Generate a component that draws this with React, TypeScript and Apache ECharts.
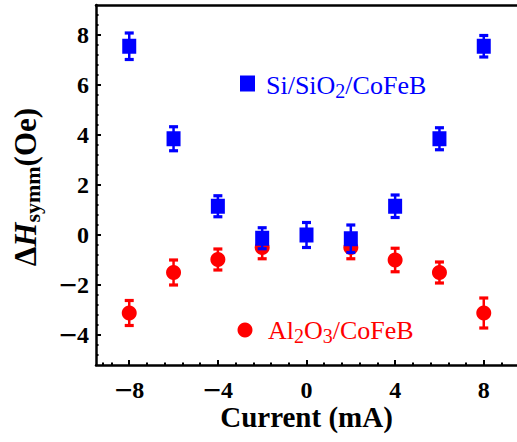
import React, { useEffect, useRef } from "react";
import * as echarts from "echarts";

// ---- data ----
const siCurrents = [-8, -6, -4, -2, 0, 2, 4, 6, 8];
const siValues = [7.55, 3.85, 1.15, -0.13, 0.0, -0.15, 1.15, 3.85, 7.55];
const siErrors = [0.53, 0.48, 0.42, 0.42, 0.5, 0.55, 0.45, 0.44, 0.43];

const alCurrents = [-8, -6, -4, -2, 2, 4, 6, 8];
const alValues = [-3.12, -1.5, -0.98, -0.5, -0.5, -1.0, -1.5, -3.12];
const alErrors = [0.5, 0.5, 0.42, 0.45, 0.45, 0.47, 0.42, 0.6];

const xMajorTicks = [-8, -4, 0, 4, 8];
const xMinorTicks = [
  -9.2, -8.8, -7.2, -6.4, -5.6, -4.8, -3.2, -2.4, -1.6, -0.8, 0.8, 1.6, 2.4, 3.2, 4.8, 5.6, 6.4, 7.2, 8.8,
];
const yMajorTicks = [-4, -2, 0, 2, 4, 6, 8];
const yMinorTicks = [
  -4.8, -4.4, -3.6, -3.2, -2.8, -2.4, -1.6, -1.2, -0.8, -0.4, 0.4, 0.8, 1.2, 1.6, 2.4, 2.8, 3.2, 3.6, 4.4,
  4.8, 5.2, 5.6, 6.4, 6.8, 7.2, 7.6, 8.4, 8.8,
];

const X_MIN = -9.5;
const X_MAX = 9.5;
const Y_MIN = -5.2;
const Y_MAX = 9.2;

const BLUE = "#0000ff";
const RED = "#ff0000";
const SERIF = "Liberation Serif";

const tickText = (v: number) => (v < 0 ? "{m|\u2212}{n|" + Math.abs(v) + "}" : "{n|" + v + "}");
const tickRich = {
  m: { fontSize: 32, fontWeight: "bold", fontFamily: SERIF, color: "#000", lineHeight: 20 },
  n: { fontSize: 24, fontWeight: "bold", fontFamily: SERIF, color: "#000", lineHeight: 20 },
};

function errorBar(color: string) {
  return (params: any, api: any) => {
    const x = api.value(0);
    const y = api.value(1);
    const e = api.value(2);
    const hi = api.coord([x, y + e]);
    const lo = api.coord([x, y - e]);
    const w = 4.5;
    return {
      type: "group",
      children: [
        {
          type: "line",
          shape: { x1: hi[0], y1: hi[1], x2: lo[0], y2: lo[1] },
          style: { stroke: color, lineWidth: 2.5 },
        },
        {
          type: "line",
          shape: { x1: hi[0] - w, y1: hi[1], x2: hi[0] + w, y2: hi[1] },
          style: { stroke: color, lineWidth: 3.2 },
        },
        {
          type: "line",
          shape: { x1: lo[0] - w, y1: lo[1], x2: lo[0] + w, y2: lo[1] },
          style: { stroke: color, lineWidth: 3.2 },
        },
      ],
    };
  };
}

function tickAxis(kind: "x" | "y", values: number[], len: number) {
  const range = kind === "x" ? { min: X_MIN, max: X_MAX } : { min: Y_MIN, max: Y_MAX };
  return {
    type: "value",
    ...range,
    position: kind === "x" ? "bottom" : "left",
    axisLine: { show: false, onZero: false },
    axisTick: {
      show: true,
      inside: true,
      length: len,
      lineStyle: { color: "#000", width: 2 },
      customValues: values,
    },
    axisLabel: { show: false },
    splitLine: { show: false },
  };
}

export default function App() {
  const ref = useRef<HTMLDivElement>(null);

  useEffect(() => {
    if (!ref.current) return;
    const chart = echarts.init(ref.current, undefined, { renderer: "svg" });

    const siErr = siCurrents.map((c, i) => [c, siValues[i], siErrors[i]]);
    const alErr = alCurrents.map((c, i) => [c, alValues[i], alErrors[i]]);
    const siPts = siCurrents.map((c, i) => [c, siValues[i]]);
    const alPts = alCurrents.map((c, i) => [c, alValues[i]]);
    const xLabelPts = xMajorTicks.map((v) => [v, Y_MIN]);
    const yLabelPts = yMajorTicks.map((v) => [X_MIN, v]);

    const labelSeriesBase = {
      type: "scatter",
      symbol: "circle",
      symbolSize: 0,
      itemStyle: { color: "rgba(0,0,0,0)", opacity: 1 },
      silent: true,
      clip: false,
      z: 6,
    };

    const option: any = {
      animation: false,
      grid: { left: 96, top: 5, width: 423, height: 360, show: false },
      xAxis: [
        {
          type: "value",
          min: X_MIN,
          max: X_MAX,
          position: "bottom",
          axisLine: { show: true, onZero: false, lineStyle: { color: "#000", width: 2.5 } },
          axisTick: { show: false },
          axisLabel: { show: false },
          splitLine: { show: false },
          name: "Current (mA)",
          nameLocation: "middle",
          nameGap: 37,
          nameTextStyle: { fontFamily: SERIF, fontWeight: "bold", fontSize: 29, color: "#000", lineHeight: 29 },
        },
        tickAxis("x", xMajorTicks, 5),
        tickAxis("x", xMinorTicks, 2.5),
        {
          type: "value",
          min: X_MIN,
          max: X_MAX,
          position: "top",
          axisLine: { show: true, onZero: false, lineStyle: { color: "#000", width: 2.5 } },
          axisTick: { show: false },
          axisLabel: { show: false },
          splitLine: { show: false },
        },
      ],
      yAxis: [
        {
          type: "value",
          min: Y_MIN,
          max: Y_MAX,
          position: "left",
          axisLine: { show: true, onZero: false, lineStyle: { color: "#000", width: 2.5 } },
          axisTick: { show: false },
          axisLabel: { show: false },
          splitLine: { show: false },
        },
        tickAxis("y", yMajorTicks, 5),
        tickAxis("y", yMinorTicks, 2.5),
      ],
      graphic: [
        {
          type: "text",
          x: 25,
          y: 187,
          rotation: Math.PI / 2,
          style: {
            text: "{d|\u0394}{h|H}{s|symm}{o|(Oe)}",
            align: "center",
            verticalAlign: "middle",
            fill: "#000",
            rich: {
              d: { fontFamily: SERIF, fontWeight: "bold", fontSize: 31, lineHeight: 36, fill: "#000" },
              h: { fontFamily: SERIF, fontWeight: "bold", fontStyle: "italic", fontSize: 31, lineHeight: 36, fill: "#000" },
              s: { fontFamily: SERIF, fontWeight: "bold", fontSize: 22, lineHeight: 20, verticalAlign: "bottom", fill: "#000" },
              o: { fontFamily: SERIF, fontWeight: "bold", fontSize: 31, lineHeight: 36, fill: "#000" },
            },
          },
        },
        {
          type: "rect",
          shape: { x: 240, y: 75.5, width: 15, height: 16 },
          style: { fill: BLUE },
        },
        {
          type: "text",
          x: 266,
          y: 85,
          style: {
            text: "{a|Si/SiO}{b|2}{a|/CoFeB}",
            align: "left",
            verticalAlign: "middle",
            fill: BLUE,
            rich: {
              a: { fontFamily: SERIF, fontSize: 26, lineHeight: 32, fill: BLUE },
              b: { fontFamily: SERIF, fontSize: 20, lineHeight: 18, verticalAlign: "bottom", fill: BLUE },
            },
          },
        },
        {
          type: "circle",
          shape: { cx: 245, cy: 330, r: 7.5 },
          style: { fill: RED },
        },
        {
          type: "text",
          x: 268,
          y: 330,
          style: {
            text: "{a|Al}{b|2}{a|O}{b|3}{a|/CoFeB}",
            align: "left",
            verticalAlign: "middle",
            fill: RED,
            rich: {
              a: { fontFamily: SERIF, fontSize: 26, lineHeight: 32, fill: RED },
              b: { fontFamily: SERIF, fontSize: 20, lineHeight: 18, verticalAlign: "bottom", fill: RED },
            },
          },
        },
      ],
      series: [
        {
          type: "custom",
          name: "Al2O3 err",
          renderItem: errorBar(RED),
          data: alErr,
          z: 2,
          silent: true,
        },
        {
          type: "scatter",
          name: "Al2O3/CoFeB",
          symbol: "circle",
          symbolSize: 15,
          itemStyle: { color: RED, opacity: 1 },
          data: alPts,
          z: 3,
        },
        {
          type: "custom",
          name: "Si err",
          renderItem: errorBar(BLUE),
          data: siErr,
          z: 4,
          silent: true,
        },
        {
          type: "scatter",
          name: "Si/SiO2/CoFeB",
          symbol: "rect",
          symbolSize: [14, 15],
          itemStyle: { color: BLUE, opacity: 1 },
          data: siPts,
          z: 5,
        },
        {
          ...labelSeriesBase,
          name: "x tick labels",
          data: xLabelPts,
          label: {
            show: true,
            position: "bottom",
            distance: 15,
            formatter: (p: any) => tickText(p.value[0]),
            rich: tickRich,
            fontFamily: SERIF,
            fontWeight: "bold",
            fontSize: 24,
            lineHeight: 20,
            color: "#000",
          },
        },
        {
          ...labelSeriesBase,
          name: "y tick labels",
          data: yLabelPts,
          label: {
            show: true,
            position: "left",
            distance: 7,
            formatter: (p: any) => tickText(p.value[1]),
            rich: tickRich,
            fontFamily: SERIF,
            fontWeight: "bold",
            fontSize: 24,
            lineHeight: 20,
            color: "#000",
          },
        },
      ],
    };

    chart.setOption(option);
    return () => chart.dispose();
  }, []);

  return (
    <div
      ref={ref}
      style={{ position: "absolute", left: 0, top: 0, width: 517, height: 442, background: "#fff" }}
    />
  );
}
